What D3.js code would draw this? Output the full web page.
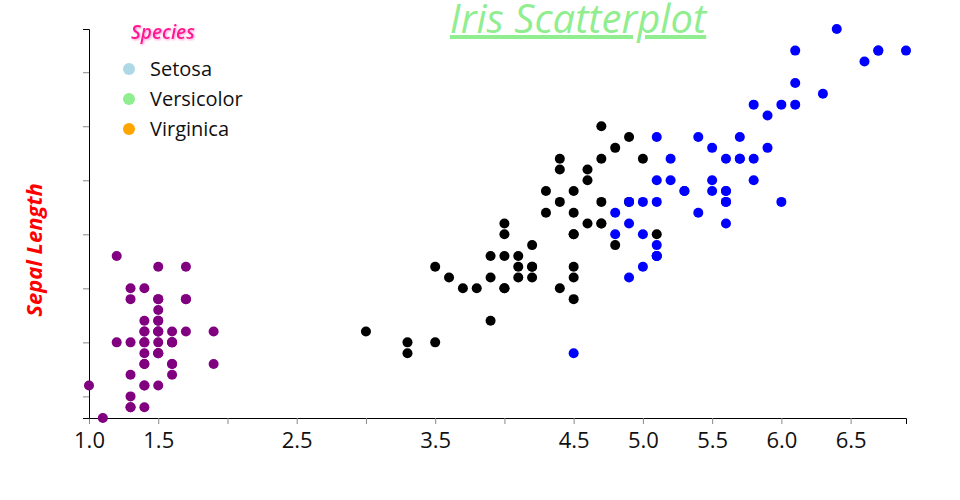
<!DOCTYPE html>
<html><head><meta charset="utf-8">
<script src="https://cdn.jsdelivr.net/npm/d3@7"></script>
<style>
body{margin:0;background:#fff;}
svg{font-family:"Open Sans",sans-serif;}
.axis .tick line{stroke:#888;}
.axis .domain{stroke:#000;}
.axis text{fill:#111;font-size:22px;font-family:"Open Sans",sans-serif;}
</style></head>
<body>
<svg id="c" width="960" height="500"></svg>
<script>
const species = ["Setosa","Versicolor","Virginica"];
const legendColors = ["lightblue","lightgreen","orange"];
const dotColors = ["purple","black","blue"];
// petal length, sepal length per species (Iris dataset)
const setosaPetal = [1.4,1.4,1.3,1.5,1.4,1.7,1.4,1.5,1.4,1.5,1.5,1.6,1.4,1.1,1.2,1.5,1.3,1.4,1.7,1.5,1.7,1.5,1.0,1.7,1.9,1.6,1.6,1.5,1.4,1.6,1.6,1.5,1.5,1.4,1.5,1.2,1.3,1.5,1.3,1.5,1.3,1.3,1.3,1.6,1.9,1.4,1.6,1.4,1.5,1.4];
const setosaSepal = [5.1,4.9,4.7,4.6,5.0,5.4,4.6,5.0,4.4,4.9,5.4,4.8,4.8,4.3,5.8,5.7,5.4,5.1,5.7,5.1,5.4,5.1,4.6,5.1,4.8,5.0,5.0,5.2,5.2,4.7,4.8,5.4,5.2,5.5,4.9,5.0,5.5,4.9,4.4,5.1,5.0,4.5,4.4,5.0,5.1,4.8,5.1,4.6,5.3,5.0];
const versicolorPetal = [4.7,4.5,4.9,4.0,4.6,4.5,4.7,3.3,4.6,3.9,3.5,4.2,4.0,4.7,3.6,4.4,4.5,4.1,4.5,3.9,4.8,4.0,4.9,4.7,4.3,4.4,4.8,5.0,4.5,3.5,3.8,3.7,3.9,5.1,4.5,4.5,4.7,4.4,4.1,4.0,4.4,4.6,4.0,3.3,4.2,4.2,4.2,4.3,3.0,4.1];
const versicolorSepal = [7.0,6.4,6.9,5.5,6.5,5.7,6.3,4.9,6.6,5.2,5.0,5.9,6.0,6.1,5.6,6.7,5.6,5.8,6.2,5.6,5.9,6.1,6.3,6.1,6.4,6.6,6.8,6.7,6.0,5.7,5.5,5.5,5.8,6.0,5.4,6.0,6.7,6.3,5.6,5.5,5.5,6.1,5.8,5.0,5.6,5.7,5.7,6.2,5.1,5.7];
const virginicaPetal = [6.0,5.1,5.9,5.6,5.8,6.6,4.5,6.3,5.8,6.1,5.1,5.3,5.5,5.0,5.1,5.3,5.5,6.7,6.9,5.0,5.7,4.9,6.7,4.9,5.7,6.0,4.8,4.9,5.6,5.8,6.1,6.4,5.6,5.1,5.6,6.1,5.6,5.5,4.8,5.4,5.6,5.1,5.1,5.9,5.7,5.2,5.0,5.2,5.4,5.1];
const virginicaSepal = [6.3,5.8,7.1,6.3,6.5,7.6,4.9,7.3,6.7,7.2,6.5,6.4,6.8,5.7,5.8,6.4,6.5,7.7,7.7,6.0,6.9,5.6,7.7,6.3,6.7,7.2,6.2,6.1,6.4,7.2,7.4,7.9,6.4,6.3,6.1,7.7,6.3,6.4,6.0,6.9,6.7,6.9,5.8,6.8,6.7,6.7,6.3,6.5,6.2,5.9];
const xTickValues = [1.0,1.5,2.0,2.5,3.0,3.5,4.0,4.5,5.0,5.5,6.0,6.5];
const xTickLabels = ["1.0","1.5","","2.5","","3.5","","4.5","5.0","5.5","6.0","6.5"];
const yTickValues = [4.5,5.0,5.5,6.0,6.5,7.0,7.5];

const petals = [setosaPetal, versicolorPetal, virginicaPetal];
const sepals = [setosaSepal, versicolorSepal, virginicaSepal];
const data = [];
species.forEach((s,i)=>petals[i].forEach((p,j)=>data.push({s:i,petal:p,sepal:sepals[i][j]})));

const svg = d3.select("#c");
const x = d3.scaleLinear().domain(d3.extent(data,d=>d.petal)).range([89,906]);
const y = d3.scaleLinear().domain(d3.extent(data,d=>d.sepal)).range([418,29]);

svg.append("g").attr("class","axis").attr("transform","translate(0,418)")
  .call(d3.axisBottom(x).tickValues(xTickValues).tickFormat((d,i)=>xTickLabels[i]).tickSizeOuter(6))
  .selectAll("text").attr("dy","0.95em");
svg.append("g").attr("class","axis").attr("transform","translate(89,0)")
  .call(d3.axisLeft(y).tickValues(yTickValues).tickFormat("").tickSizeOuter(6));

svg.append("g").selectAll("circle").data(data).join("circle")
  .attr("cx",d=>x(d.petal)).attr("cy",d=>y(d.sepal)).attr("r",5)
  .attr("fill",d=>dotColors[d.s]);

// title
svg.append("text").attr("x",578).attr("y",33).attr("text-anchor","middle")
  .attr("font-size",40).attr("font-style","italic").attr("text-decoration","underline")
  .attr("fill","lightgreen").text("Iris Scatterplot");

// y label
svg.append("text").attr("transform","translate(42,250) rotate(-90)").attr("text-anchor","middle")
  .attr("font-size",22).attr("font-style","italic").attr("font-weight","bold")
  .attr("fill","red").text("Sepal Length");

// legend
const defs = svg.append("defs");
const f = defs.append("filter").attr("id","glow").attr("x","-20%").attr("y","-40%").attr("width","140%").attr("height","180%");
f.append("feDropShadow").attr("dx",1).attr("dy",1).attr("stdDeviation",1).attr("flood-color","#ff88cc").attr("flood-opacity",0.9);
svg.append("text").attr("x",131).attr("y",39).attr("font-size",19).attr("font-style","italic").attr("font-weight","600")
  .attr("fill","#ff1493").attr("filter","url(#glow)").text("Species");
const lg = svg.append("g").selectAll("g").data(species).join("g")
  .attr("transform",(d,i)=>`translate(129,${69+i*30})`);
lg.append("circle").attr("r",6).attr("fill",(d,i)=>legendColors[i]);
lg.append("text").attr("x",21).attr("dy","0.35em").attr("font-size",20).attr("fill","#111").text(d=>d);
</script>
</body></html>
